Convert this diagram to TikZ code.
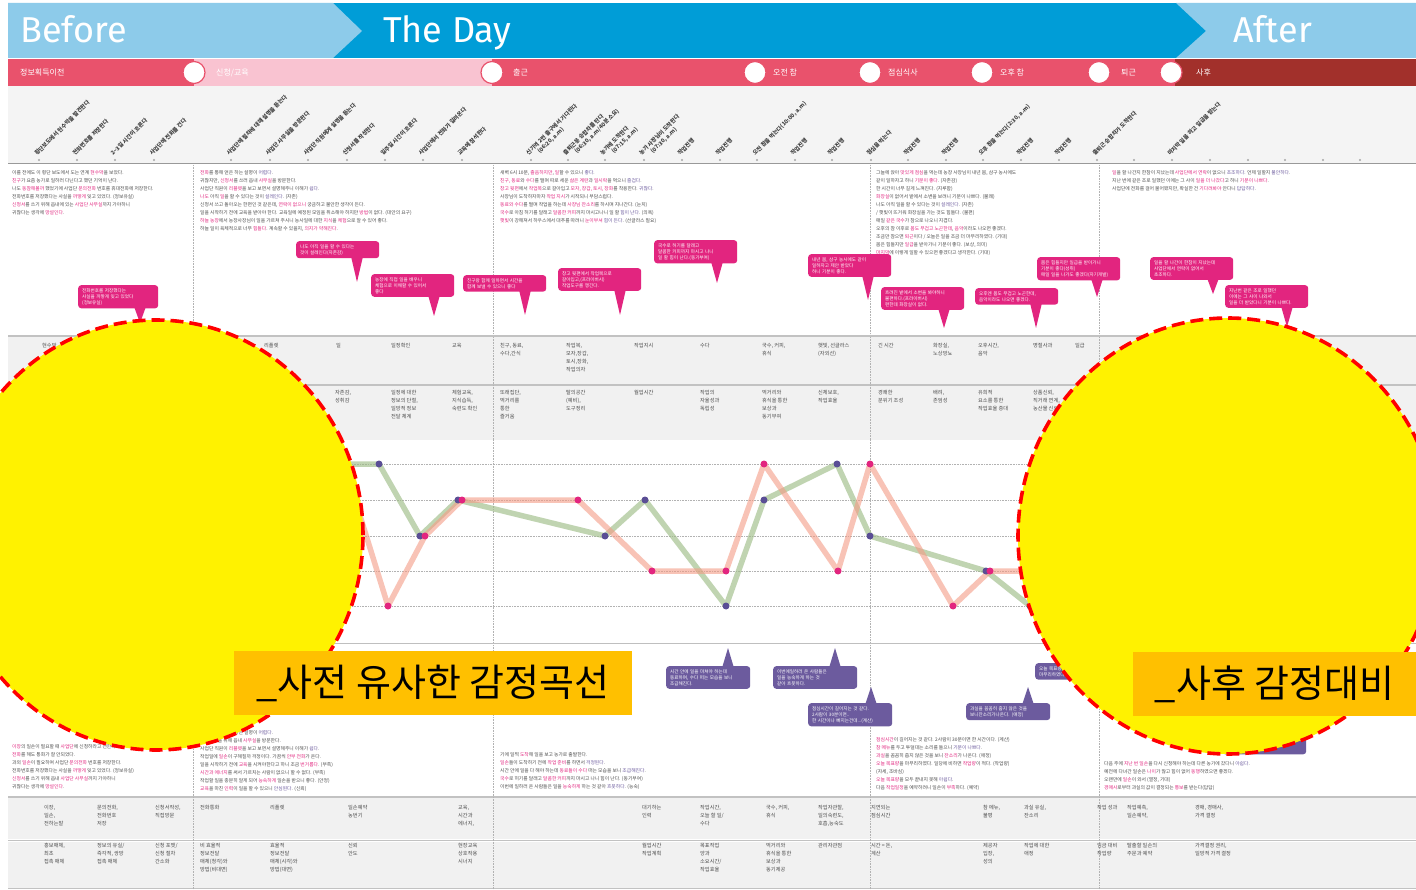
\documentclass[tikz,border=0pt]{standalone}
\usepackage{fontspec}
\setmainfont{Noto Sans CJK KR}
\newfontfamily\titlefont{Fira Sans}
\usetikzlibrary{calc}
\definecolor{lblue}{HTML}{8DCBEA}
\definecolor{dblue}{HTML}{009DD7}
\definecolor{pdark}{HTML}{E9526C}
\definecolor{plight}{HTML}{F9C3D1}
\definecolor{dred}{HTML}{A2302B}
\definecolor{gbg}{HTML}{F4F4F4}
\definecolor{rowbg}{HTML}{F1F1F1}
\definecolor{rowline}{HTML}{C2C2C2}
\definecolor{mag}{HTML}{E2257F}
\definecolor{purp}{HTML}{6C5B9E}
\definecolor{gline}{HTML}{9FBD88}
\definecolor{sline}{HTML}{F49C86}
\definecolor{navy}{HTML}{5A4E95}
\definecolor{orng}{HTML}{FFC000}
\newcommand{\mg}[1]{\textcolor{mag}{#1}}
\newcommand{\pp}[1]{\textcolor{purp}{#1}}
\begin{document}
\begin{tikzpicture}[x=1pt,y=-1pt,
  titletxt/.style={font=\titlefont\fontsize{36}{36}\selectfont, text=white, anchor=base west, inner sep=0},
  phase/.style={font=\fontsize{8}{8}\selectfont, text=white, anchor=west, inner sep=0},
  pdot/.style={circle, fill=white, draw=pdark, line width=1.2pt, minimum size=22pt, inner sep=0},
  rlab/.style={rotate=45, anchor=base west, inner sep=0, font=\fontsize{5.6}{6}\selectfont\bfseries, text=black!75},
  rlab2/.style={rotate=45, anchor=north west, inner sep=0, align=left, font=\fontsize{5.6}{7}\selectfont\bfseries, text=black!75},
  tickdot/.style={circle, fill=black!35, minimum size=2.2pt, inner sep=0},
  para/.style={anchor=north west, align=left, inner sep=0, font=\fontsize{4.8}{8}\selectfont, text=black!70},
  cell/.style={anchor=north west, align=left, inner sep=0, font=\fontsize{5.2}{8}\selectfont, text=black!70},
  pbub/.style={fill=mag, rounded corners=3pt, text=white, font=\fontsize{4.6}{6.2}\selectfont, align=left, anchor=north west, inner xsep=4pt, inner ysep=3pt, text width=75pt},
  vbub/.style={fill=purp, rounded corners=3pt, text=white, font=\fontsize{4.6}{6.2}\selectfont, align=left, anchor=north west, inner xsep=4pt, inner ysep=3pt, text width=76pt},
  gpt/.style={circle, fill=navy, minimum size=7pt, inner sep=0},
  spt/.style={circle, fill=mag, minimum size=7pt, inner sep=0},
  sepline/.style={densely dotted, black!30, line width=0.6pt},
  gridline/.style={densely dotted, black!30, line width=0.6pt},
  rowedge/.style={rowline, line width=1.6pt},
  ycirc/.style={fill=yellow, draw=red, line width=3.6pt, dash pattern=on 13pt off 6pt},
  olab/.style={fill=orng, inner sep=0, anchor=north west, font=\fontsize{38}{38}\selectfont, text=black}
]
\useasboundingbox (0,0) rectangle (1416,890);
\fill[white] (0,0) rectangle (1416,890);

% ---------- header ----------
\fill[dblue] (8,3) rectangle (1416,58);
\fill[lblue] (8,3) -- (333,3) -- (362,31) -- (333,58) -- (8,58) -- cycle;
\fill[lblue] (1176,3) -- (1416,3) -- (1416,58) -- (1176,58) -- (1206,31) -- cycle;
\node[titletxt] (tBefore) at (20,43) {Before};
\node[titletxt] (tDay) at (383,43) {The Day};
\node[titletxt] (tAfter) at (1233,43) {After};

% ---------- phase bar ----------
\fill[pdark] (8,59) rectangle (1416,86);
\fill[plight] (194,59) rectangle (492,86);
\fill[dred] (1175,59) rectangle (1416,86);
\foreach \x [count=\i] in {194,492,755,870,982,1099,1171}
  \node[pdot] (pc\i) at (\x,72.5) {};
\node[phase] (ph1) at (20,72.5) {정보획득이전};
\node[phase] (ph2) at (216,72.5) {신청/교육};
\node[phase] (ph3) at (513,72.5) {출근};
\node[phase] (ph4) at (773,72.5) {오전 참};
\node[phase] (ph5) at (888,72.5) {점심식사};
\node[phase] (ph6) at (1000,72.5) {오후 참};
\node[phase] (ph7) at (1121,72.5) {퇴근};
\node[phase] (ph8) at (1196,72.5) {사후};

% ---------- step labels ----------
\fill[gbg] (8,86) rectangle (1416,163);
\draw[black!40, line width=0.8pt] (8,163) -- (1416,163);
\foreach \x [count=\i] in {39,77,115,154,231,270,308,347,385,423,462,531,568,605,644,682,720,757,795,832,871,908,946,983,1021,1059,1097,1134,1172,1210,1248,1285,1323,1360}
  \node[tickdot] (tk\i) at (\x,160) {};
\foreach \x/\t [count=\i] in {
  39/{횡단보도에서 현수막을 발견한다},
  77/{전화번호를 저장한다},
  115/{2\textasciitilde 3일 시간이 흐른다},
  154/{사업단에 전화를 건다},
  231/{사업단에 절차에 대해 설명을 듣는다},
  270/{사업단 사무실을 방문한다},
  308/{사업단 직원에게 설명을 듣는다},
  347/{신청서를 작성한다},
  385/{일주일 시간이 흐른다},
  423/{사업단에서 전화가 걸려온다},
  462/{교육에 참석한다},
  682/{작업진행},
  720/{작업진행},
  757/{오전 참을 먹는다(10:00, a.m)},
  795/{작업진행},
  832/{작업진행},
  871/{점심을 먹는다},
  908/{작업진행},
  946/{작업진행},
  983/{오후 참을 먹는다(2:30, a.m)},
  1021/{작업진행},
  1059/{작업진행},
  1097/{출퇴근 승합차가 도착한다},
  1172/{마지막 일을 하고 일급을 받는다}}
  \node[rlab] (lab\i) at (\x-2,156) {\t};
\foreach \x/\t [count=\i] in {
  531/{신기역 2번 출구에서 기다린다\\\hspace*{9pt}(06:20, a.m)},
  568/{출퇴근용 승합차를 탄다\\\hspace*{9pt}(06:30, a.m/40분 소요)},
  605/{농가에 도착한다\\\hspace*{9pt}(07:15, a.m)},
  644/{농가 사장님이 도착한다\\\hspace*{9pt}(07:30, a.m)}}
  \node[rlab2] (labt\i) at (\x-6,152) {\t};

% ---------- separators ----------
\foreach \x [count=\i] in {193,493,870,1099}
  \draw[sepline] (\x,165) -- (\x,890);

% ---------- upper paragraphs ----------
\node[para] (p1) at (12,170) {이를 전에도 이 횡단 보도에서 도는 연계 \mg{현수막}을 보았다.\\
\mg{친구}가 요즘 농가로 일하러 다닌다고 했던 기억이 난다.\\
나도 \mg{동참해볼까} 했었기에 사업단 \mg{문의전화} 번호를 휴대전화에 저장한다.\\
전화번호를 저장했다는 사실을 \mg{까맣게} 잊고 있었다. (정보유실)\\
\mg{신청서}를 쓰기 위해 읍내에 있는 \mg{사업단 사무실}까지 가야하니\\
귀찮다는 생각에 \mg{망설인다}.};
\node[para] (p2) at (200,170) {\mg{전화}를 통해 얻은 하는 설명이 \pp{어렵다}.\\
귀찮지만, \mg{신청서}를 쓰러 읍내 \mg{사무실}을 방문한다.\\
사업단 직원이 \mg{리플렛}을 보고 보면서 설명해주니 이해가 \pp{쉽다}.\\
\mg{나도} 아직 \mg{일}을 할 수 있다는 것이 \pp{설레인다}. (자존)\\
신청서 쓰고 돌아오는 한편인 것 같은데, \mg{연락이 없으니} 궁금하고 불안한 생각이 든다.\\
일을 시작하기 전에 교육을 받아야 한다. 교육일에 예정된 모임을 취소해야 하지만 \mg{방법}이 없다. (대안의 요구)\\
\mg{하늘 농장}에서 농장사장님이 일을 가르쳐 주시니 농사일에 대한 \mg{지식}을 \mg{체험}으로 알 수 있어 좋다.\\
하늘 일이 육체적으로 너무 \mg{힘들다}. 계속할 수 있을지, \mg{의지가 약해진다}.};
\node[para] (p3) at (500,170) {새벽 6시 10분, \mg{졸음하지만}, \mg{일}할 수 있으니 \pp{좋다}.\\
\mg{친구, 동료}와 \mg{수다}를 떨며 따로 세운 \mg{삶은 계란}과 \mg{일시락}을 먹으니 \pp{즐겁다}.\\
\mg{창고 뒷편}에서 \mg{작업복}으로 갈아입고 \mg{모자, 장갑, 토시, 장화}를 착용한다. \pp{귀찮다}.\\
사장님이 도착하자마자 \mg{작업 지시}가 시작되니 부담스럽다.\\
\mg{동료와 수다}를 떨며 작업을 하는데 \mg{사장님 잔소리}를 하시며 지나간다. (눈치)\\
\mg{국수}로 아침 허기를 달래고 \mg{달콤한 커피}까지 마시고나니 일 할 \pp{힘이 난다}. (의욕)\\
\mg{햇빛}이 강해져서 하우스에서 대추를 따려니 \mg{눈이부셔} \pp{힘이 든다}. (선글라스 필요)};
\node[para] (p4) at (876,170) {그늘에 앉아 \mg{맛있게 점심}을 먹는데 농장 사장님이 내년 봄, 삼구 농사에도\\
같이 일하자고 하니 \mg{기분이 좋다}. (자존감)\\
한 시간이 너무 길게 느껴진다. (지루함)\\
\mg{화장실}이 없어서 밭에서 소변을 보려니 기분이 나쁘다. (불쾌)\\
나도 아직 일을 할 수 있다는 것이 \pp{설레인다}. (자존)\\
/ 햇빛이 뜨거워 화장실을 가는 것도 힘들다. (불편)\\
매일 \mg{같은 국수}가 참으로 나오니 지겹다.\\
오후의 참 이후로 \mg{몸도 무겁고 노곤한데}, \mg{음악}이라도 나오면 좋겠다.\\
조금만 참으면 \mg{퇴근}이다 / 오늘은 일을 조금 더 마무리하였다. (기대)\\
몸은 힘들지만 \mg{일급}을 받아가니 기분이 좋다. (보상, 의미)\\
\mg{마지막}에 이렇게 일할 수 있으면 좋겠다고 생각한다. (기대)};
\node[para] (p5) at (1112,170) {\mg{일}을 할 나간지 한참이 지났는데 \mg{사업단에서 연락}이 없으니 \pp{초조하다}. 언제 일할지 \pp{불안하다}.\\
지난 번에 같은 조로 일했던 이에는 그 사이 \mg{일을 더 나갔다}고 하니 \mg{기분이 나쁘다}.\\
사업단에 전화를 걸어 물어봤지만, 확실한 건 \mg{기다려봐야} 안다니 \pp{답답하다}.};

% ---------- pink bubbles ----------
\node[pbub, text width=72pt] (b1) at (78,285) {전화번호를 저장했다는\\사실을 까맣게 잊고 있었다\\(정보유실)};
\node[pbub] (b2) at (296,241) {나도 아직 일을 할 수 있다는\\것이 설레인다(자존감)};
\node[pbub] (b3) at (371,274) {농장에 직접 일을 배우니\\체험으로 이해할 수 있어서\\좋다};
\node[pbub] (b4) at (463,275) {친구랑 함께 일하면서 시간을\\함께 보낼 수 있으니 좋다};
\node[pbub] (b5) at (558,268) {창고 뒷편에서 작업복으로\\갈아입고,(프라이버시)\\작업도구를 챙긴다.};
\node[pbub] (b6) at (654,240) {국수로 허기를 달래고\\달콤한 커피까지 마시고 나니\\일 할 힘이 난다.(동기부여)};
\node[pbub] (b7) at (808,254) {내년 봄, 삼구 농사에도 같이\\일하자고 제안 받았다\\하니 기분이 좋다.};
\node[pbub] (b8) at (881,287) {흐려진 밭에서 소변을 봐야하니\\불편하다.(프라이버시)\\편한데 화장실이 없다.};
\node[pbub] (b9) at (975,288) {오후엔 몸도 무겁고 노곤한데,\\음악이라도 나오면 좋겠다.};
\node[pbub] (b10) at (1037,257) {몸은 힘들지만 일급을 받아가니\\기분이 좋다(성취)\\매일 일을 나가도 좋겠다(자기개발)};
\node[pbub] (b11) at (1150,257) {일을 할 나간이 한참이 지났는데\\사업단에서 연락이 없어서\\초조하다.};
\node[pbub] (b12) at (1225,285) {지난번 같은 조로 일했던\\이에는 그 사이 나와서\\일을 더 받았다니 기분이 나쁘다.};
\foreach \b/\tx/\ty in {b1/140/323, b2/357/282, b3/434/316, b4/525/315, b5/620/315, b6/717/283, b7/868/300, b8/944/328, b9/1036/328, b10/1097/297, b11/1213/294, b12/1287/327}{
  \coordinate (tip\b) at (\tx,\ty);
  \fill[mag] ($(tip\b |- \b.south)+(-6,-2)$) -- ($(tip\b |- \b.south)+(6,-2)$) -- (tip\b) -- cycle;
}

% ---------- rows 1 & 2 ----------
\fill[rowbg] (8,336) rectangle (1416,440);
\fill[white] (8,384) rectangle (1416,386);
\draw[rowedge] (8,336) -- (1416,336);
\draw[rowedge] (8,385) -- (1416,385);
\foreach \x [count=\i] in {193,493,870,1099}
  \draw[sepline] (\x,337) -- (\x,440);
\foreach \x/\t [count=\i] in {
  42/{현수막}, 264/{리플렛}, 336/{일}, 391/{일정확인}, 452/{교육},
  500/{친구, 동료,\\수다,간식}, 566/{작업복,\\모자,장갑,\\토시,장화,\\작업의자}, 634/{작업지시},
  700/{수다}, 762/{국수, 커피,\\휴식}, 818/{햇빛, 선글라스\\(자외선)}, 878/{긴 시간},
  933/{화장실,\\노상방뇨}, 978/{오후시간,\\음악}, 1033/{명절사과}, 1075/{일급}}
  \node[cell] (ra\i) at (\x,343) {\t};
\foreach \x/\t [count=\i] in {
  335/{자존감,\\성취감}, 391/{일정에 대한\\정보의 단절,\\일방적 정보\\전달 체계},
  452/{체험교육,\\지식습득,\\숙련도 확인}, 500/{또래집단,\\먹거리를\\통한\\즐거움},
  566/{탈의공간\\(예비),\\도구정리}, 634/{월업시간}, 700/{작업의\\자율성과\\독립성},
  762/{먹거리와\\휴식을 통한\\보상과\\동기부여}, 818/{신체보호,\\작업효율},
  878/{경쾌한\\분위기 조성}, 933/{배려,\\존엄성}, 978/{유희적\\요소를 통한\\작업효율 증대},
  1033/{상품신뢰,\\직거래 연계,\\농산물 신뢰}}
  \node[cell] (rb\i) at (\x,390) {\t};

% ---------- graph ----------
\foreach \y in {464,500,536,571,606}
  \draw[gridline] (8,\y) -- (1416,\y);
\draw[black!25, line width=0.8pt] (8,643) -- (1416,643);
\coordinate (g0) at (300,464);
\coordinate (g1) at (379,464);
\coordinate (g2) at (420,536);
\coordinate (g3) at (458,500);
\coordinate (g4) at (605,536);
\coordinate (g5) at (645,500);
\coordinate (g6) at (726,606);
\coordinate (g7) at (764,500);
\coordinate (g8) at (837,464);
\coordinate (g9) at (870,536);
\coordinate (g10) at (986,571);
\coordinate (g11) at (1030,606);
\coordinate (s0) at (344,464);
\coordinate (s1) at (388,606);
\coordinate (s2) at (425,536);
\coordinate (s3) at (462,500);
\coordinate (s4) at (578,500);
\coordinate (s5) at (652,571);
\coordinate (s6) at (726,571);
\coordinate (s7) at (764,464);
\coordinate (s8) at (838,571);
\coordinate (s9) at (870,464);
\coordinate (s10) at (953,606);
\coordinate (s11) at (990,571);
\coordinate (s12) at (1040,571);
\draw[gline, line width=5.5pt, opacity=0.65, line join=round] (g0) -- (g1) -- (g2) -- (g3) -- (g4) -- (g5) -- (g6) -- (g7) -- (g8) -- (g9) -- (g10) -- (g11);
\draw[sline, line width=5.5pt, opacity=0.6, line join=round] (s0) -- (s1) -- (s2) -- (s3) -- (s4) -- (s5) -- (s6) -- (s7) -- (s8) -- (s9) -- (s10) -- (s11) -- (s12);
\foreach \i in {1,...,11} \node[gpt] (gd\i) at (g\i) {};
\foreach \i in {1,...,11} \node[spt] (sd\i) at (s\i) {};

% ---------- purple bubbles ----------
\node[vbub] (v1) at (666,666) {시간 안에 일을 마쳐야 하는데\\동료하며, 수다 떠는 모습을 보니\\조급해진다.};
\node[vbub] (v2) at (773,666) {이번에일하러 온 사람들은\\일을 능숙하게 하는 것\\같아 흐뭇하다.};
\node[vbub] (v3) at (808,703) {점심시간이 길어지는 것 같다.\\2사람이 30분이면..\\한 시간이나 빠지는건데...(계산)};
\node[vbub] (v4) at (966,703) {과실을 꼼꼼히 줍지 않은 것을\\보니잔소리가나온다. (애정)};
\node[vbub] (v5) at (1035,663) {오늘 목표량을\\마무리하였다.};
\node[vbub] (v6) at (1222,731) {일손을 다시 구하려니\\막막하다.\\(걱정)};
\foreach \b/\tx/\ty in {v1/728/648, v2/835/648, v3/871/687, v4/1028/687}{
  \coordinate (tip\b) at (\tx,\ty);
  \fill[purp] ($(tip\b |- \b.north)+(-6,2)$) -- ($(tip\b |- \b.north)+(6,2)$) -- (tip\b) -- cycle;
}

% ---------- lower paragraphs ----------
\node[para] (q1) at (12,744) {\mg{이장}의 일손이 필요할 때 \mg{사업단}에 신청하라고 전한다.\\
\mg{전화}를 해도 통화가 잘 안되었다.\\
과외 \mg{일손}이 필요하여 사업단 \mg{문의전화} 번호를 저장한다.\\
전화번호를 저장했다는 사실을 \mg{까맣게} 잊고 있었다. (정보유실)\\
\mg{신청서}를 쓰기 위해 읍내 \mg{사업단 사무실}까지 가야하니\\
귀찮다는 생각에 \mg{망설인다}.};
\node[para] (q2) at (200,730) {\mg{전화}를 통해 얻은 하는 설명이 \pp{어렵다}.\\
\mg{일손예약}을 위해 읍내 \mg{사무실}을 방문한다.\\
사업단 직원이 \mg{리플렛}을 보고 보면서 설명해주니 이해가 \pp{쉽다}.\\
작업일에 \mg{일손}이 구해질까 걱정이다. 가끔씩 \mg{안부 전화}가 온다.\\
일을 시작하기 전에 \mg{교육}을 시켜야한다고 하니 조금 \mg{번거롭다}. (부족)\\
\mg{시간과 에너지}를 써서 가르치는 사람이 없으니 할 수 없다. (부족)\\
작업할 일을 충분히 알게 되어 \mg{능숙하게} 일손을 받으니 좋다. (안정)\\
\mg{교육}을 마친 \mg{인력}이 일을 할 수 있으니 \pp{안심된다}. (신뢰)};
\node[para] (q3) at (500,752) {기에 일찍 \mg{도착}해 일을 보고 농가로 출발한다.\\
\mg{일손}들이 도착하기 전에 \mg{작업 준비}를 하면서 \pp{걱정된다}.\\
시간 안에 일을 다 해야 하는데 \mg{동료들이 수다} 떠는 모습을 보니 \pp{조급해진다}.\\
\mg{국수}로 허기를 달래고 \mg{달콤한 커피}까지 마시고 나니 힘이 난다. (동기부여)\\
이번에 일하러 온 사람들은 일을 \mg{능숙하게} 하는 것 같아 \pp{흐뭇하다}. (능숙)};
\node[para] (q4) at (876,737) {\mg{점심시간}이 길어지는 것 같다. 2사람이 30분이면 한 시간이다. (계산)\\
\mg{참 메뉴}를 두고 투덜대는 소리를 들으니 \pp{기분이 나쁘다}.\\
\mg{과실}을 꼼꼼히 줍지 않은 것을 보니 \mg{잔소리}가 나온다. (애정)\\
\mg{오늘 목표량}을 마무리하였다. 일당에 비하면 \mg{작업량}이 적다. (작업량)\\
(자세, 조바심)\\
\mg{오늘 목표량}을 모두 끝내지 못해 \pp{아쉽다}.\\
다음 \mg{작업일정}을 예약하려니 일손이 \mg{부족}하다. (예약)};
\node[para] (q5) at (1104,761) {다음 주에 \mg{지난 번 일손}을 다시 신청해야 하는데 다른 농가에 갔다니 \pp{아쉽다}.\\
예전에 다녀간 일손은 \mg{나이}가 많고 힘이 없어 \mg{동행}하였으면 좋겠다.\\
오랜만에 \mg{일손}이 와서 (열정, 기대)\\
\mg{경매사}로부터 과실의 값이 결정되는 \mg{통보}를 받는다(답답)};

% ---------- rows 3 & 4 ----------
\fill[rowbg] (8,797) rectangle (1416,888);
\fill[white] (8,839) rectangle (1416,842);
\draw[rowedge] (8,797) -- (1416,797);
\draw[rowedge] (8,840.5) -- (1416,840.5);
\draw[rowedge] (8,888.5) -- (1416,888.5);
\foreach \x [count=\i] in {193,493,870,1099}
  \draw[sepline] (\x,797) -- (\x,890);
\foreach \x/\t [count=\i] in {
  44/{이장,\\일손,\\전하는말}, 97/{문의전화,\\전화번호\\저장}, 155/{신청서작성,\\직접방문},
  200/{전화통화}, 270/{리플렛}, 348/{일손예약\\농번기}, 458/{교육,\\시간과\\에너지,},
  642/{대기하는\\인력}, 700/{작업시간,\\오늘 할 일/\\수다}, 766/{국수, 커피,\\휴식},
  818/{작업자관찰,\\일의숙련도,\\호흡,능숙도}, 871/{지연되는\\점심시간}, 983/{참 메뉴,\\불평},
  1024/{과실 유실,\\잔소리}, 1097/{작업 성과}, 1127/{작업예측,\\일손예약,}, 1195/{경매, 경매사,\\가격 결정}}
  \node[cell] (rc\i) at (\x,805) {\t};
\foreach \x/\t [count=\i] in {
  44/{홍보매체,\\최초\\접촉 매체}, 97/{정보의 유실/\\즉각적, 쌍방\\접촉 매체}, 155/{신청 포맷/\\신청 절차\\간소화},
  200/{비 효율적\\정보전달\\매체(청각)와\\방법(비대면)}, 270/{효율적\\정보전달\\매체(시각)와\\방법(대면)},
  348/{신뢰\\안도}, 458/{현장교육\\상호작용\\시너지}, 642/{월업시간\\작업계획},
  700/{목표작업\\양과\\소요시간/\\작업효율}, 766/{먹거리와\\휴식을 통한\\보상과\\동기제공},
  818/{관리자관점}, 871/{시간 = 돈,\\계산}, 983/{제공자\\입장,\\성의}, 1024/{작업에 대한\\애정},
  1097/{임금 대비\\작업량}, 1127/{탈출할 일손의\\주문과 예약}, 1195/{가격결정 권리,\\일방적 가격 결정}}
  \node[cell] (rd\i) at (\x,843) {\t};

% ---------- highlight circles and labels ----------
\draw[ycirc] (156,535) ellipse [x radius=207pt, y radius=215pt];
\draw[ycirc] (1228,536) ellipse [x radius=210pt, y radius=218pt];
\node[olab, minimum width=398pt, minimum height=64pt] (lab1) at (234,651) {\_사전 유사한 감정곡선};
\node[olab, minimum width=283pt, minimum height=64pt] (lab2) at (1133,652) {\_사후 감정대비};
\end{tikzpicture}
\end{document}
